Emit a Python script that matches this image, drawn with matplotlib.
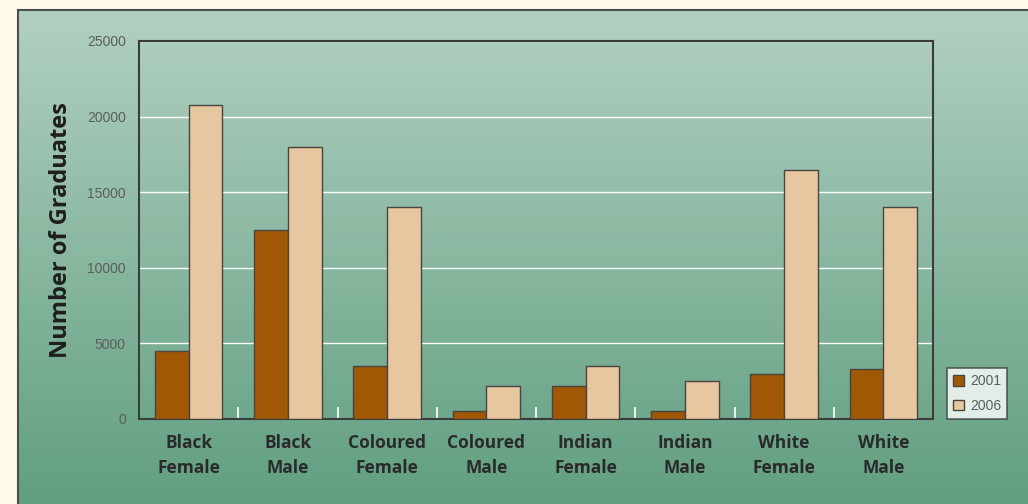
import numpy as np
import matplotlib.pyplot as plt
from matplotlib.colors import LinearSegmentedColormap
from matplotlib.patches import Patch

categories = ['Black\nFemale', 'Black\nMale', 'Coloured\nFemale', 'Coloured\nMale',
              'Indian\nFemale', 'Indian\nMale', 'White\nFemale', 'White\nMale']
grads_2001 = [4500, 12500, 3500, 500, 2200, 500, 3000, 3300]
grads_2006 = [20800, 18000, 14000, 2200, 3500, 2500, 16500, 14000]
y_ticks = [0, 5000, 10000, 15000, 20000, 25000]

W, H = 1028, 504
fig = plt.figure(figsize=(W / 100, H / 100), dpi=100)
fig.patch.set_facecolor('#fffae8')

# green gradient panel behind the chart
bg = fig.add_axes([18 / W, 0, 1 - 18 / W, 1 - 10 / H])
cmap = LinearSegmentedColormap.from_list('panel', ['#b2d0c1', '#619f81'])
bg.imshow(np.linspace(0, 1, 256).reshape(-1, 1), aspect='auto', cmap=cmap,
          extent=[0, 1, 0, 1])
bg.set_xticks([])
bg.set_yticks([])
for side in ['right', 'bottom']:
    bg.spines[side].set_visible(False)
for side in ['left', 'top']:
    bg.spines[side].set_color('#4a4f4c')
    bg.spines[side].set_linewidth(1.5)

# main chart
ax = fig.add_axes([139 / W, 1 - 419 / H, (933 - 139) / W, (419 - 41) / H])
ax.patch.set_alpha(0)
x = np.arange(len(categories))
w = 0.34
ax.bar(x - w / 2, grads_2001, w, color='#a15805', edgecolor='#4a4440',
       linewidth=1, label='2001', zorder=3)
ax.bar(x + w / 2, grads_2006, w, color='#e6c79f', edgecolor='#4a4440',
       linewidth=1, label='2006', zorder=3)

ax.set_xlim(-0.5, len(categories) - 0.5)
ax.set_ylim(0, 25000)
ax.set_yticks(y_ticks)
ax.set_yticklabels([str(v) for v in y_ticks], color='#5a5e5b', fontsize=10,
                   family='Liberation Sans')
ax.tick_params(axis='y', length=0, pad=9.5)
ax.yaxis.grid(True, color='white', linewidth=1.0, zorder=1)

ax.set_xticks(x)
ax.set_xticklabels(categories, fontsize=12.5, fontweight='bold',
                   color='#2a2a2a', family='Open Sans', linespacing=1.5)
ax.tick_params(axis='x', length=0, pad=11)
# small white separators between the groups
ax.set_xticks(np.arange(len(categories) - 1) + 0.5, minor=True)
ax.tick_params(axis='x', which='minor', direction='in', length=9,
               color='white', width=1.2)

for side in ax.spines.values():
    side.set_color('#3a3d3b')
    side.set_linewidth(1.5)

ax.set_ylabel('Number of Graduates', fontsize=17, fontweight='bold',
              color='#1e1e1e', family='Open Sans')
ax.yaxis.set_label_coords((73 - 139) / (933 - 139), 0.5)

handles = [Patch(facecolor='#a15805', edgecolor='#4a4440', label='2001'),
           Patch(facecolor='#e6c79f', edgecolor='#4a4440', label='2006')]
leg = fig.legend(handles=handles, loc='upper left',
                 bbox_to_anchor=(947 / W, 1 - 368 / H), borderaxespad=0,
                 frameon=True, fancybox=False,
                 prop={'family': 'Liberation Sans', 'size': 10},
                 handlelength=0.8, handleheight=0.8, handletextpad=0.4,
                 borderpad=0.45, labelspacing=0.75, labelcolor='#5a5e5b')
leg.get_frame().set_edgecolor('#3a3d3b')
leg.get_frame().set_linewidth(1.2)
leg.get_frame().set_facecolor('white')

fig.savefig('out.png', dpi=100, facecolor=fig.get_facecolor())
